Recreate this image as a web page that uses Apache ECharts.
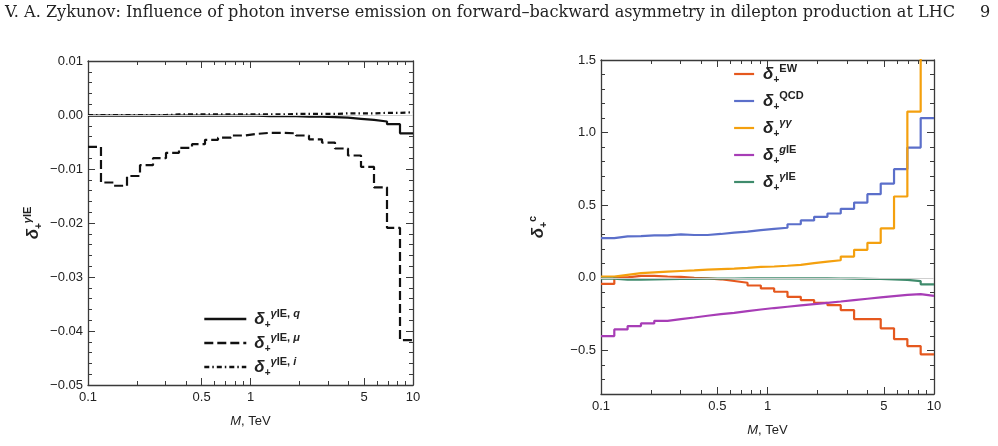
<!DOCTYPE html>
<html>
<head>
<meta charset="utf-8">
<script src="https://cdn.jsdelivr.net/npm/echarts@6/dist/echarts.min.js"></script>
<style>
  html, body { margin: 0; padding: 0; background: #fff; }
  #chart { width: 998px; height: 446px; }
</style>
</head>
<body>
<div id="chart"></div>
<script>
// bin edges in M (TeV), 25 equal bins in log M
const binEdges = [0.1, 0.1202, 0.1445, 0.1738, 0.2089, 0.2512, 0.3020, 0.3631, 0.4365, 0.5248,
  0.6310, 0.7586, 0.9120, 1.0965, 1.3183, 1.5849, 1.9055, 2.2909, 2.7542, 3.3113,
  3.9811, 4.7863, 5.7544, 6.9183, 8.3176, 10];

// left panel: delta_+^{gamma IE} pieces
const ieQ = [-0.0001, -0.0001, -0.0001, -0.0001, -0.0001, -0.0001, -0.0001, -0.0001, -0.0001, -0.0001,
  -0.0001, -0.0001, -0.0001, -0.0002, -0.0002, -0.0002, -0.0003, -0.0003, -0.0004, -0.0005,
  -0.0007, -0.0009, -0.0012, -0.0017, -0.0034];
const ieMu = [-0.0059, -0.0125, -0.0131, -0.0113, -0.0093, -0.0080, -0.0070, -0.0061, -0.0054, -0.0046,
  -0.0042, -0.0038, -0.0035, -0.0033, -0.0033, -0.0034, -0.0038, -0.0045, -0.0051, -0.0062,
  -0.0075, -0.0096, -0.0134, -0.0209, -0.0417];
const ieI = [0.0000, 0.0000, 0.0000, 0.0000, 0.0000, 0.0000, 0.0001, 0.0001, 0.0001, 0.0001,
  0.0001, 0.0001, 0.0001, 0.0001, 0.0001, 0.0002, 0.0002, 0.0002, 0.0002, 0.0003,
  0.0003, 0.0003, 0.0004, 0.0004, 0.0005];

// right panel: delta_+^c
const dEW = [-0.042, 0.003, 0.014, 0.014, 0.009, 0.006, 0.000, -0.004, -0.010, -0.022,
  -0.034, -0.053, -0.073, -0.096, -0.131, -0.153, -0.172, -0.188, -0.222, -0.284,
  -0.284, -0.348, -0.422, -0.470, -0.527];
const dQCD = [0.273, 0.285, 0.287, 0.292, 0.292, 0.299, 0.295, 0.295, 0.302, 0.311,
  0.318, 0.329, 0.337, 0.345, 0.369, 0.395, 0.420, 0.443, 0.475, 0.518,
  0.576, 0.649, 0.748, 0.897, 1.100];
const dGG = [0.008, 0.020, 0.032, 0.038, 0.043, 0.047, 0.051, 0.056, 0.060, 0.064,
  0.069, 0.075, 0.078, 0.083, 0.089, 0.101, 0.112, 0.121, 0.146, 0.193,
  0.241, 0.340, 0.560, 1.145, 2.100];
const dgIE = [-0.401, -0.355, -0.332, -0.314, -0.296, -0.284, -0.273, -0.261, -0.250, -0.241,
  -0.229, -0.218, -0.208, -0.199, -0.190, -0.181, -0.172, -0.163, -0.153, -0.144,
  -0.135, -0.126, -0.117, -0.112, -0.124];
const dGamIE = [-0.006, -0.012, -0.013, -0.011, -0.009, -0.008, -0.007, -0.006, -0.0055, -0.0046,
  -0.0042, -0.0038, -0.0035, -0.0033, -0.0033, -0.0036, -0.0040, -0.0048, -0.0055, -0.0068,
  -0.0082, -0.0105, -0.0146, -0.0224, -0.045];

// ticks
const xMajor = [0.1, 0.5, 1, 5, 10];
const xMinor = [0.2, 0.3, 0.4, 0.6, 0.7, 0.8, 0.9, 2, 3, 4, 6, 7, 8, 9];
const yRightMajor = [-0.5, 0, 0.5, 1.0, 1.5];

const sans = 'Liberation Sans';
const frame = '#3a3a3a';

// histogram points: value held from left edge to next edge
function steps(vals) {
  const pts = vals.map((v, k) => [Math.log10(binEdges[k]), v]);
  pts.push([Math.log10(binEdges[binEdges.length - 1]), vals[vals.length - 1]]);
  return pts;
}

function fmtX(v) {
  const m = Math.pow(10, v);
  return String(Math.round(m * 10) / 10);
}
function fmtY(v, d) {
  const r = Number(v.toFixed(d));
  if (r === 0) return (0).toFixed(d);
  return (r < 0 ? '\u2212' : '') + Math.abs(r).toFixed(d);
}

const noLine = { show: false, onZero: false };

function xAxes(grid, labelMargin) {
  const base = {
    type: 'value', gridIndex: grid, min: -1, max: 1,
    axisLine: { show: true, onZero: false, lineStyle: { color: frame, width: 1.3 } },
    splitLine: { show: false }
  };
  return [
    Object.assign({}, base, {
      position: 'bottom',
      name: '{i|M}, TeV', nameLocation: 'middle', nameGap: 30,
      nameTextStyle: { fontFamily: sans, fontSize: 13, color: '#222',
        rich: { i: { fontFamily: sans, fontSize: 13, fontStyle: 'italic', color: '#222' } } },
      axisTick: { inside: true, length: 7, customValues: xMajor.map(Math.log10), lineStyle: { color: frame } },
      axisLabel: { customValues: xMajor.map(Math.log10), formatter: fmtX, margin: labelMargin,
        fontFamily: sans, fontSize: 13, color: '#222' }
    }),
    Object.assign({}, base, {
      position: 'bottom', axisLine: noLine,
      axisTick: { inside: true, length: 4, customValues: xMinor.map(Math.log10), lineStyle: { color: frame } },
      axisLabel: { show: false }
    }),
    Object.assign({}, base, {
      position: 'top',
      axisTick: { inside: true, length: 7, customValues: xMajor.map(Math.log10), lineStyle: { color: frame } },
      axisLabel: { show: false }
    }),
    Object.assign({}, base, {
      position: 'top', axisLine: noLine,
      axisTick: { inside: true, length: 4, customValues: xMinor.map(Math.log10), lineStyle: { color: frame } },
      axisLabel: { show: false }
    })
  ];
}

const supRich = {
  d: { fontFamily: sans, fontSize: 17, fontStyle: 'italic', fontWeight: 'bold', color: '#222', lineHeight: 22, verticalAlign: 'middle' },
  s: { fontFamily: sans, fontSize: 10, fontWeight: 'bold', color: '#222', lineHeight: 9, verticalAlign: 'bottom' },
  u: { fontFamily: sans, fontSize: 11, fontWeight: 'bold', color: '#222', lineHeight: 11, verticalAlign: 'top' },
  ui: { fontFamily: sans, fontSize: 11, fontWeight: 'bold', fontStyle: 'italic', color: '#222', lineHeight: 11, verticalAlign: 'top' }
};

const rightLabels = {
  EW: '{u|EW}', QCD: '{u|QCD}', 'γγ': '{ui|γγ}', gIE: '{ui|g}{u|IE}', 'γIE': '{ui|γ}{u|IE}'
};

const leftLine = (name, data, type) => ({
  type: 'line', name: name, xAxisIndex: 0, yAxisIndex: 0, data: steps(data), step: 'end',
  symbol: 'none', lineStyle: { color: '#111', width: 2.2, type: type }, itemStyle: { color: '#111' },
  animation: false, z: 3
});
const rightLine = (name, data, color) => ({
  type: 'line', name: name, xAxisIndex: 4, yAxisIndex: 2, data: steps(data), step: 'end',
  symbol: 'none', lineStyle: { color: color, width: 2.2 }, itemStyle: { color: color },
  animation: false, z: 3
});

const series = [
  leftLine('q', ieQ, 'solid'),
  leftLine('μ', ieMu, [9, 4]),
  leftLine('i', ieI, [5, 3, 1.5, 3]),
  rightLine('EW', dEW, '#E5581E'),
  rightLine('QCD', dQCD, '#5B6FCA'),
  rightLine('γγ', dGG, '#F4A00E'),
  rightLine('gIE', dgIE, '#A73DB6'),
  rightLine('γIE', dGamIE, '#3F8B6C')
];
// faint zero lines
series[0].markLine = { silent: true, symbol: ['none', 'none'], label: { show: false },
  lineStyle: { color: '#cfcfcf', width: 1, type: 'solid' }, data: [{ yAxis: 0 }], animation: false };
series[3].markLine = { silent: true, symbol: ['none', 'none'], label: { show: false },
  lineStyle: { color: '#cfcfcf', width: 1, type: 'solid' }, data: [{ yAxis: 0 }], animation: false };
series[3].z = 2;

const chart = echarts.init(document.getElementById('chart'), null, { renderer: 'canvas' });
chart.setOption({
  animation: false,
  backgroundColor: '#fff',
  graphic: [
    { type: 'text', left: 5, top: 5, style: { text: 'V. A. Zykunov: Influence of photon inverse emission on forward\u2013backward asymmetry in dilepton production at LHC',
      font: '16.1px "DejaVu Serif"', fill: '#222' } },
    { type: 'text', left: 980, top: 5, style: { text: '9', font: '16.1px "DejaVu Serif"', fill: '#222' } }
  ],
  grid: [
    { left: 88, top: 61, width: 325, height: 324 },
    { left: 601, top: 60, width: 333, height: 334 }
  ],
  xAxis: [].concat(xAxes(0, 6), xAxes(1, 6)),
  yAxis: [
    {
      type: 'value', gridIndex: 0, min: -0.05, max: 0.01, interval: 0.01, position: 'left',
      name: '{d|δ}{s|+}{ui|γ}{u|IE}', nameLocation: 'middle', nameGap: 44, nameRotate: 90,
      nameTextStyle: { rich: supRich },
      axisLine: { show: true, onZero: false, lineStyle: { color: frame, width: 1.3 } },
      axisTick: { inside: true, length: 7, lineStyle: { color: frame } },
      minorTick: { show: true, splitNumber: 5, length: 4, lineStyle: { color: frame } },
      splitLine: { show: false },
      axisLabel: { formatter: v => fmtY(v, 2), fontFamily: sans, fontSize: 13, color: '#222', margin: 5 }
    },
    {
      type: 'value', gridIndex: 0, min: -0.05, max: 0.01, interval: 0.01, position: 'right',
      axisLine: { show: true, onZero: false, lineStyle: { color: frame, width: 1.3 } },
      axisTick: { inside: true, length: 7, lineStyle: { color: frame } },
      minorTick: { show: true, splitNumber: 5, length: 4, lineStyle: { color: frame } },
      splitLine: { show: false }, axisLabel: { show: false }
    },
    {
      type: 'value', gridIndex: 1, min: -0.8, max: 1.5, position: 'left',
      name: '{d|δ}{s|+}{u|c}', nameLocation: 'middle', nameGap: 52, nameRotate: 90,
      nameTextStyle: { rich: supRich },
      axisLine: { show: true, onZero: false, lineStyle: { color: frame, width: 1.3 } },
      axisTick: { inside: true, length: 7, customValues: yRightMajor, lineStyle: { color: frame } },
      splitLine: { show: false },
      axisLabel: { customValues: yRightMajor, formatter: v => fmtY(v, 1), fontFamily: sans, fontSize: 13, color: '#222', margin: 5 }
    },
    {
      type: 'value', gridIndex: 1, min: -0.8, max: 1.5, interval: 0.1, position: 'left',
      axisLine: noLine, splitLine: { show: false }, axisLabel: { show: false },
      axisTick: { inside: true, length: 4, lineStyle: { color: frame } }
    },
    {
      type: 'value', gridIndex: 1, min: -0.8, max: 1.5, position: 'right',
      axisLine: { show: true, onZero: false, lineStyle: { color: frame, width: 1.3 } },
      axisTick: { inside: true, length: 7, customValues: yRightMajor, lineStyle: { color: frame } },
      splitLine: { show: false }, axisLabel: { show: false }
    },
    {
      type: 'value', gridIndex: 1, min: -0.8, max: 1.5, interval: 0.1, position: 'right',
      axisLine: noLine, splitLine: { show: false }, axisLabel: { show: false },
      axisTick: { inside: true, length: 4, lineStyle: { color: frame } }
    }
  ],
  legend: [
    {
      data: ['q', 'μ', 'i'], orient: 'vertical', left: 203, top: 308, padding: 0,
      itemWidth: 42, itemHeight: 12, itemGap: 2,
      formatter: n => '{d|δ}{s|+}{ui|γ}{u|IE, }{ui|' + n + '}',
      textStyle: { rich: supRich, padding: [0, 0, 0, 3] },
      itemStyle: { opacity: 0 },
      lineStyle: { width: 2.6 }
    },
    {
      data: ['EW', 'QCD', 'γγ', 'gIE', 'γIE'], orient: 'vertical', left: 733, top: 63, padding: 0,
      itemWidth: 20, itemHeight: 12, itemGap: 5,
      formatter: n => '{d|δ}{s|+}' + rightLabels[n],
      textStyle: { rich: supRich, padding: [0, 0, 0, 4] },
      itemStyle: { opacity: 0 },
      lineStyle: { width: 2.2 }
    }
  ],
  series: series
});
</script>
</body>
</html>
